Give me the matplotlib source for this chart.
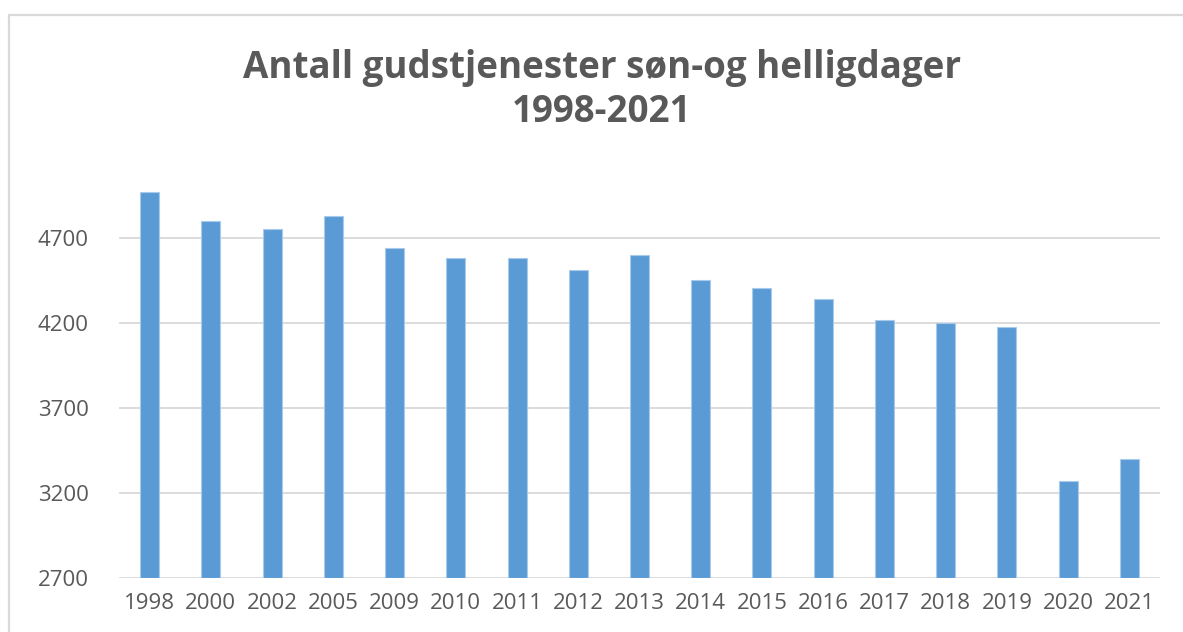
import numpy as np
import matplotlib.pyplot as plt
from matplotlib.patches import Rectangle

# data
years = ['1998', '2000', '2002', '2005', '2009', '2010', '2011', '2012', '2013',
         '2014', '2015', '2016', '2017', '2018', '2019', '2020', '2021']
gudstjenester = [4969, 4798, 4755, 4828, 4639, 4582, 4584, 4510, 4600,
                 4451, 4404, 4339, 4216, 4200, 4175, 3271, 3402]
y_ticks = [2700, 3200, 3700, 4200, 4700]

title = 'Antall gudstjenester søn-og helligdager\n1998-2021'

plt.rcParams['font.family'] = ['Open Sans', 'DejaVu Sans']
text_grey = '#595959'

W, H = 1183, 632
fig = plt.figure(figsize=(W / 100, H / 100), dpi=100)

# light frame of the chart area (cut off at right and bottom)
fig.patches.append(Rectangle((9 / W, -0.1), 1.2, 1 - 15 / H + 0.1,
                             transform=fig.transFigure, fill=False,
                             edgecolor='#d9d9d9', linewidth=1.6))

ax = fig.add_axes([119 / W, 1 - 578 / H, (1160 - 119) / W, (578 - 153) / H])
x = np.arange(len(years))
ax.bar(x, np.array(gudstjenester) - y_ticks[0], bottom=y_ticks[0], width=0.31,
       color='#5b9bd5', edgecolor='#a9cbeb', linewidth=0.8, zorder=3)

ax.set_xlim(-0.5, len(years) - 0.5)
ax.set_ylim(2700, 5200)
ax.set_yticks(y_ticks)
ax.set_xticks(x)
ax.set_xticklabels(years)
ax.grid(axis='y', color='#d9d9d9', linewidth=1.3, zorder=0)
for s in ax.spines.values():
    s.set_visible(False)
ax.tick_params(length=0, labelsize=16, labelcolor=text_grey)
ax.tick_params(axis='y', pad=22)
ax.tick_params(axis='x', pad=11)

fig.text(602 / W, 1 - 90 / H, title, ha='center', va='center',
         fontsize=26.5, fontweight='bold', color=text_grey, linespacing=1.22)

fig.savefig('out.png', dpi=100)
